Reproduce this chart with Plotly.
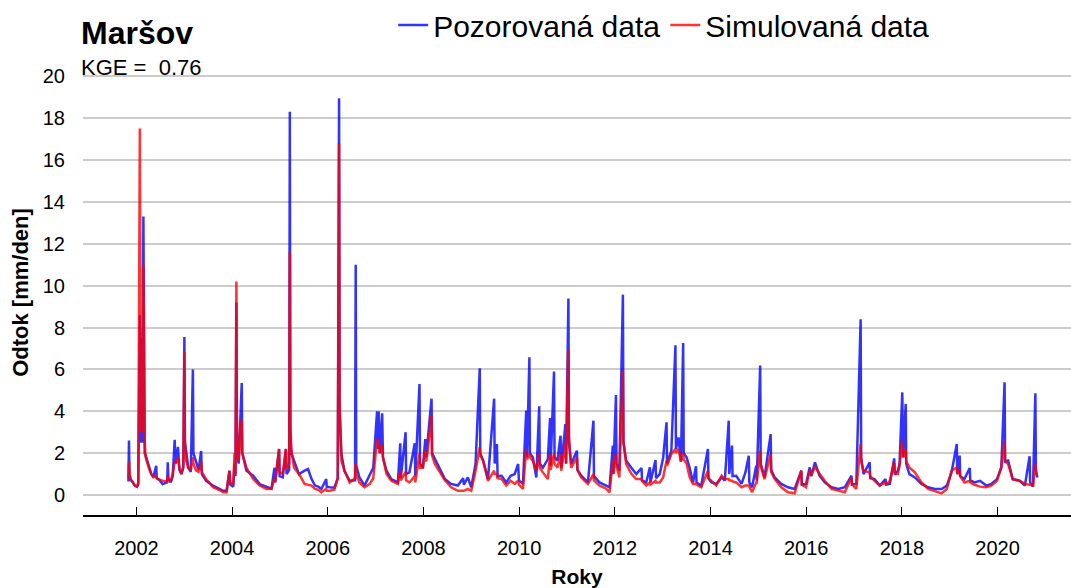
import plotly.graph_objects as go

# ---- data (daily runoff, mm/den) ----
dates = [
    "2001-11-01","2001-11-05","2001-11-09","2001-11-20","2001-12-05","2001-12-20","2002-01-05","2002-01-15",
    "2002-01-27","2002-01-31","2002-02-04","2002-02-09","2002-02-13","2002-02-19","2002-02-23","2002-02-27",
    "2002-03-05","2002-03-12","2002-03-25","2002-04-10","2002-04-25","2002-05-10","2002-06-01","2002-06-05",
    "2002-06-20","2002-07-20","2002-08-24","2002-08-28","2002-09-02","2002-09-20","2002-10-05","2002-10-20",
    "2002-10-26",
    "2002-11-14","2002-11-25","2002-12-10","2002-12-25","2003-01-02","2003-01-06","2003-01-15","2003-02-01",
    "2003-02-20","2003-03-08","2003-03-12","2003-04-02","2003-04-20","2003-05-10","2003-05-15","2003-06-17",
    "2003-08-08","2003-09-27","2003-10-25",
    "2003-11-20","2003-12-12","2003-12-18","2004-01-10","2004-01-20","2004-01-27","2004-02-03","2004-02-07",
    "2004-02-14","2004-02-20","2004-03-15","2004-03-19","2004-04-20","2004-06-10","2004-07-30","2004-09-20",
    "2004-10-28",
    "2004-11-20","2004-11-25","2004-12-25","2004-12-29","2005-01-22","2005-02-15","2005-02-20","2005-03-12",
    "2005-03-17","2005-03-21","2005-03-28","2005-04-18","2005-05-26","2005-07-08","2005-08-03","2005-08-30",
    "2005-09-25","2005-10-20",
    "2005-11-13","2005-12-20","2005-12-24","2006-01-15","2006-02-20","2006-03-18","2006-03-28","2006-04-01",
    "2006-04-15","2006-05-08","2006-06-17","2006-07-28","2006-08-02","2006-08-06","2006-08-30","2006-10-08",
    "2006-11-18","2006-12-14","2007-01-12","2007-01-17","2007-01-24","2007-02-02","2007-02-20","2007-02-26",
    "2007-03-25","2007-05-01","2007-06-20","2007-07-08","2007-07-12","2007-08-18","2007-08-22","2007-09-16",
    "2007-10-27","2007-10-31",
    "2007-12-02","2007-12-06","2007-12-28","2008-01-15","2008-01-22","2008-02-01","2008-03-03","2008-03-07",
    "2008-03-28","2008-05-04","2008-06-13","2008-07-30","2008-09-20","2008-10-30",
    "2008-11-05","2008-12-05","2008-12-31","2009-02-02","2009-03-06","2009-03-10","2009-04-01","2009-05-08",
    "2009-06-24","2009-06-28","2009-07-15","2009-07-20","2009-08-20","2009-09-24","2009-10-28",
    "2009-11-28","2009-12-24","2009-12-30","2010-01-30","2010-02-24","2010-03-02","2010-03-20","2010-03-24",
    "2010-04-15","2010-05-12","2010-06-03","2010-06-07","2010-07-01","2010-08-08","2010-08-25","2010-08-29",
    "2010-09-24","2010-09-28","2010-10-20",
    "2010-11-13","2010-11-18","2010-12-20","2010-12-25","2011-01-12","2011-01-16","2011-02-02","2011-03-18",
    "2011-03-22","2011-04-20","2011-06-10","2011-07-22","2011-07-26","2011-09-06","2011-10-27",
    "2011-11-22","2011-12-17","2011-12-21","2012-01-10","2012-01-14","2012-02-05","2012-03-03","2012-03-07",
    "2012-03-28","2012-05-08","2012-06-13","2012-07-23","2012-07-27","2012-08-28","2012-09-25","2012-09-29",
    "2012-11-07","2012-11-11","2012-12-09","2013-01-04","2013-01-30","2013-02-03","2013-03-08","2013-04-08",
    "2013-04-12","2013-05-02","2013-05-20","2013-06-06","2013-06-10","2013-07-02","2013-07-26","2013-08-20",
    "2013-09-12","2013-09-16","2013-10-22",
    "2013-12-12","2013-12-16","2014-01-08","2014-02-14","2014-03-27","2014-04-20","2014-05-20","2014-05-24",
    "2014-06-14","2014-06-18","2014-07-16","2014-08-26","2014-09-24","2014-10-20","2014-10-24",
    "2014-11-14","2014-12-16","2014-12-20","2015-01-15","2015-01-19","2015-02-17","2015-04-05","2015-04-09",
    "2015-05-06","2015-06-25","2015-08-15","2015-10-05",
    "2015-11-25","2015-11-29","2015-12-31","2016-01-28","2016-02-10","2016-03-08","2016-04-12","2016-05-22",
    "2016-07-13","2016-09-03","2016-10-22",
    "2016-12-12","2016-12-16","2017-01-18","2017-02-20","2017-02-24","2017-03-14","2017-04-30","2017-05-04",
    "2017-06-06","2017-07-16","2017-08-29","2017-09-02","2017-10-01","2017-11-03",
    "2017-11-08","2017-12-01","2017-12-14","2018-01-04","2018-01-10","2018-01-30","2018-02-03","2018-02-27",
    "2018-04-10","2018-05-30","2018-07-20","2018-09-10","2018-10-31",
    "2018-12-10","2019-01-15","2019-02-24","2019-02-28","2019-03-18","2019-03-22","2019-04-23","2019-06-03",
    "2019-06-07","2019-07-10","2019-08-20","2019-10-08",
    "2019-11-14","2019-12-28","2020-01-30","2020-02-24","2020-02-28","2020-03-22","2020-04-26","2020-06-18",
    "2020-07-28","2020-09-02","2020-09-06","2020-09-28","2020-10-16","2020-10-20","2020-10-31",
]

observed = [
    0.65,2.6,0.9,0.7,0.6,0.45,0.4,0.5,
    8.6,3.5,2.5,7.5,3.0,2.5,13.3,4.0,
    2.0,1.9,1.6,1.3,1.0,0.85,1.4,0.8,
    0.75,0.52,0.6,1.56,0.8,0.6,0.9,2.64,
    1.5,
    2.3,1.2,1.0,1.3,7.55,2.5,2.1,1.3,
    1.1,6.0,2.0,1.5,1.2,2.1,1.0,0.68,
    0.45,0.29,0.2,
    0.2,1.16,0.5,0.4,1.5,0.9,9.2,3.0,
    1.8,1.5,5.35,2.0,1.16,0.92,0.52,0.37,
    0.3,
    1.3,0.6,2.2,0.9,0.85,2.2,1.0,1.2,
    18.3,3.0,2.0,1.64,1.0,1.16,1.24,0.76,
    0.45,0.4,
    0.29,0.76,0.4,0.37,0.35,0.8,18.95,4.0,
    1.96,1.16,0.68,0.7,11.0,1.4,0.85,0.45,
    1.0,1.3,4.0,2.2,4.0,2.0,3.9,1.8,
    1.16,0.76,0.6,2.47,0.8,3.0,1.0,1.08,
    2.47,0.9,
    5.3,1.5,1.3,2.67,1.8,2.5,4.6,2.0,
    1.72,1.3,0.76,0.53,0.45,0.8,
    0.5,0.84,0.37,1.48,6.05,2.0,1.64,0.76,
    4.6,1.5,2.44,0.9,0.92,0.6,0.92,
    1.0,1.48,0.7,0.53,4.03,1.8,6.58,2.0,
    1.8,0.84,4.24,1.5,1.3,1.72,3.68,1.4,
    5.9,1.8,1.64,
    2.83,1.3,3.39,1.5,9.38,2.5,1.48,2.12,
    1.2,0.92,0.6,3.55,0.9,0.6,0.45,
    0.37,2.36,1.0,4.78,1.5,1.16,9.57,2.5,
    1.64,1.29,1.0,1.29,0.7,0.6,1.32,0.6,
    1.67,0.8,1.0,1.77,3.47,1.5,2.12,7.15,
    2.2,2.75,1.6,7.26,2.0,1.8,1.29,0.6,
    1.37,0.6,0.45,
    2.2,0.8,0.6,0.53,0.84,0.68,3.55,1.0,
    2.36,0.9,0.92,0.53,1.08,1.88,0.6,
    0.37,1.4,0.7,6.18,1.5,0.84,2.91,1.2,
    0.84,0.53,0.37,0.29,
    1.16,0.5,0.53,1.32,0.9,1.56,0.92,0.6,
    0.37,0.29,0.37,
    0.92,0.5,0.53,8.39,1.8,1.0,1.56,0.8,
    0.76,0.45,0.76,0.5,0.53,1.75,
    1.0,1.16,1.48,4.9,1.8,4.35,1.5,1.0,
    0.84,0.53,0.37,0.29,0.29,
    0.45,1.08,2.44,1.0,1.88,0.9,0.76,1.29,
    0.7,0.6,0.68,0.45,
    0.53,0.76,1.32,5.38,1.6,1.64,0.76,0.68,
    0.45,1.85,0.6,0.4,4.86,1.2,0.84,
]

simulated = [
    0.8,1.6,1.0,0.75,0.6,0.45,0.4,0.6,
    17.5,5.0,3.0,8.0,3.5,3.0,11.0,4.5,
    2.6,1.8,1.5,1.2,1.0,0.85,0.9,0.8,
    0.75,0.68,0.65,0.9,0.8,0.65,1.0,1.6,
    1.5,
    1.8,1.3,1.0,1.4,6.85,2.6,1.64,1.3,
    1.2,1.8,1.5,1.16,1.1,1.6,1.1,0.76,
    0.37,0.24,0.13,
    0.12,1.16,0.6,0.5,2.0,1.0,10.2,3.5,
    2.2,1.6,3.6,2.0,1.3,0.76,0.45,0.29,
    0.3,
    0.8,0.6,2.2,1.1,1.0,2.2,1.2,1.5,
    11.6,3.5,2.2,1.3,1.0,0.53,0.5,0.45,
    0.29,0.25,
    0.13,0.3,0.2,0.2,0.25,0.8,16.8,4.5,
    1.64,1.16,0.6,0.8,1.5,1.0,0.6,0.37,
    0.53,0.8,2.7,2.2,2.6,2.0,2.4,1.8,
    1.0,0.68,0.53,1.16,0.7,1.1,0.7,0.6,
    0.9,0.6,
    1.96,1.3,1.3,2.1,1.6,2.0,3.8,1.9,
    1.48,1.08,0.7,0.37,0.2,0.2,
    0.2,0.29,0.2,1.16,2.28,1.9,1.64,0.68,
    1.16,1.0,1.0,0.8,0.76,0.45,0.68,
    0.53,0.68,0.5,0.29,2.2,1.7,1.96,1.8,
    1.64,1.16,1.96,1.3,1.08,0.76,1.96,1.2,
    1.96,1.5,1.3,
    1.96,1.16,2.44,1.5,6.96,2.8,1.3,1.8,
    1.2,0.84,0.53,1.0,0.7,0.45,0.3,
    0.13,1.64,1.0,1.96,1.4,0.84,5.94,2.6,
    1.48,1.0,0.76,0.76,0.68,0.45,0.6,0.5,
    0.68,0.6,0.6,0.84,1.64,1.4,1.96,2.2,
    2.0,2.2,1.6,1.96,1.7,1.5,0.84,0.53,
    0.53,0.5,0.37,
    1.16,0.8,0.68,0.45,0.92,0.76,0.76,0.7,
    0.68,0.65,0.6,0.37,0.45,0.45,0.4,
    0.13,0.6,0.6,2.12,1.4,0.76,1.96,1.1,
    0.76,0.37,0.13,0.08,
    1.16,0.5,0.37,1.16,1.0,1.32,1.0,0.68,
    0.29,0.2,0.13,
    0.84,0.5,0.29,2.44,1.6,1.16,1.08,0.9,
    0.68,0.45,0.6,0.5,0.68,1.56,
    1.0,1.0,1.4,2.6,1.8,2.2,1.6,1.32,
    1.08,0.6,0.29,0.18,0.08,
    0.29,1.16,1.32,1.0,1.16,0.9,0.6,0.68,
    0.6,0.49,0.4,0.37,
    0.45,0.68,1.32,2.6,1.6,1.48,0.76,0.68,
    0.53,0.49,0.5,0.45,1.48,1.0,1.0,
]

year_ticks = ["2002","2004","2006","2008","2010","2012","2014","2016","2018","2020"]
y_ticks = [0, 2, 4, 6, 8, 10, 12, 14, 16, 18, 20]

FONT = "Liberation Sans, Arial, Helvetica, sans-serif"

fig = go.Figure()
fig.add_trace(go.Scatter(
    x=dates, y=observed, mode="lines", name="Pozorovaná data",
    line=dict(color="rgba(0,0,255,0.8)", width=2.5),
))
fig.add_trace(go.Scatter(
    x=dates, y=simulated, mode="lines", name="Simulovaná data",
    line=dict(color="rgba(255,0,0,0.8)", width=2.5),
))

fig.update_layout(
    width=1071, height=588,
    margin=dict(l=83, r=0, t=70, b=73, autoexpand=False),
    paper_bgcolor="white", plot_bgcolor="white",
    font=dict(family=FONT, color="black", size=20),
    showlegend=True,
    legend=dict(
        orientation="h", xref="container", yref="container",
        x=0.3671, y=0.9575, xanchor="left", yanchor="middle",
        font=dict(size=30, family=FONT, color="black"),
        bgcolor="rgba(0,0,0,0)", itemwidth=30, tracegroupgap=0,
    ),
    xaxis=dict(
        type="date",
        range=["2000-11-19", "2021-07-15"],
        tickvals=[y + "-01-01" for y in year_ticks],
        ticktext=year_ticks,
        ticks="inside", ticklen=8, tickwidth=1.2, tickcolor="black",
        showline=True, linecolor="black", linewidth=1.5,
        showgrid=False, zeroline=False,
        tickfont=dict(size=20, family=FONT, color="black"),
        ticklabelstandoff=14,
        title=dict(text="<b>Roky</b>", font=dict(size=21, family=FONT, color="black"), standoff=12),
    ),
    yaxis=dict(
        range=[-0.955, 20.3],
        tickvals=y_ticks,
        ticks="", showline=False, zeroline=False,
        showgrid=True, gridcolor="#cccccc", gridwidth=2,
        tickfont=dict(size=20, family=FONT, color="black"),
        ticklabelstandoff=17,
        title=dict(text="<b>Odtok [mm/den]</b>", font=dict(size=22, family=FONT, color="black"), standoff=8),
    ),
    annotations=[
        dict(text="<b>Maršov</b>", xref="paper", yref="paper", x=-0.003, y=1.0831,
             xanchor="left", yanchor="middle", showarrow=False, borderpad=0,
             font=dict(size=32, family=FONT, color="black")),
        dict(text="KGE =  0.76", xref="paper", yref="paper", x=-0.003, y=1.0067,
             xanchor="left", yanchor="middle", showarrow=False, borderpad=0,
             font=dict(size=22, family=FONT, color="black")),
    ],
)

fig.write_html("out.html", config={"displayModeBar": False},
               post_script="document.body.style.margin='0px';")
